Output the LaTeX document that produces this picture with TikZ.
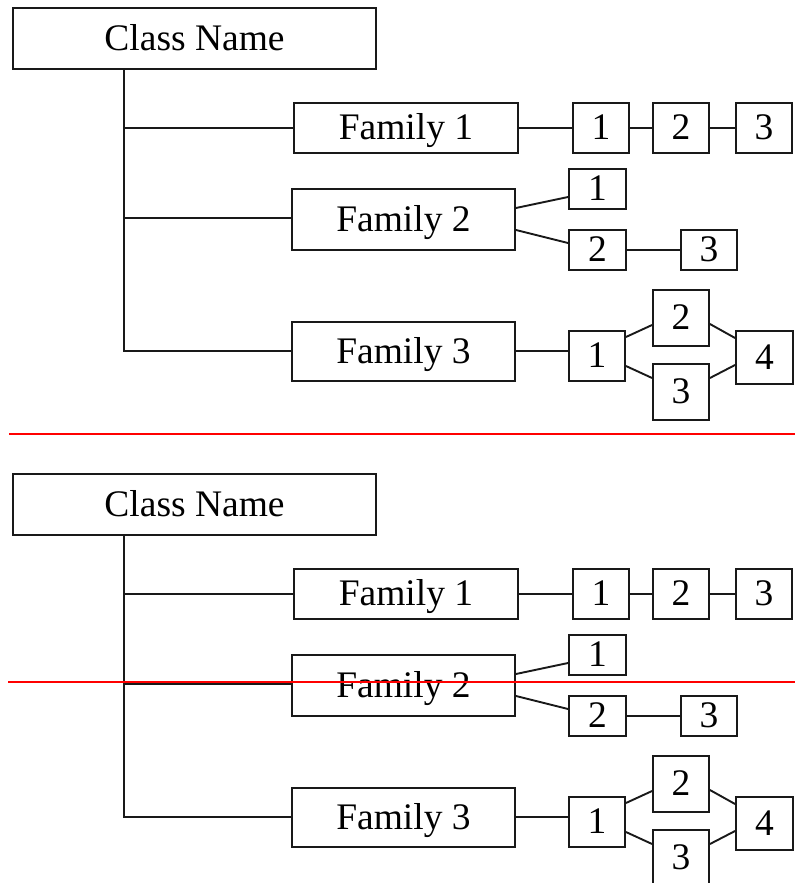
\documentclass[tikz,border=0pt]{standalone}
\usepackage{fontspec}
\setmainfont{Liberation Serif}
\usetikzlibrary{calc}
\begin{document}
\begin{tikzpicture}[x=1pt,y=-1pt,
  box/.style={draw=black!90,line width=1.9pt,inner sep=0pt,font=\fontsize{37.5}{40}\selectfont,
    text height=23.5pt,text depth=0pt,fill=white},
  conn/.style={draw=black!90,line width=1.9pt},
  sep/.style={draw=red,line width=2pt}]
\useasboundingbox (0,0) rectangle (795,883);
\foreach \o/\p in {0/a,466/b}{
\begin{scope}[yshift=-\o pt]
  \node[box,minimum width=363pt,minimum height=61pt] (\p cn) at (194.5,38.5) {Class Name};
  \node[box,minimum width=224pt,minimum height=50pt] (\p f1) at (406,128) {Family 1};
  \node[box,minimum width=56pt,minimum height=50pt] (\p f11) at (601,128) {1};
  \node[box,minimum width=56pt,minimum height=50pt] (\p f12) at (681,128) {2};
  \node[box,minimum width=56pt,minimum height=50pt] (\p f13) at (764,128) {3};
  \node[box,minimum width=223pt,minimum height=61pt] (\p f2) at (403.5,219.5) {Family 2};
  \node[box,minimum width=57pt,minimum height=40pt] (\p f21) at (597.5,189) {1};
  \node[box,minimum width=57pt,minimum height=40pt] (\p f22) at (597.5,250) {2};
  \node[box,minimum width=56pt,minimum height=40pt] (\p f23) at (709,250) {3};
  \node[box,minimum width=223pt,minimum height=59pt] (\p f3) at (403.5,351.5) {Family 3};
  \node[box,minimum width=56pt,minimum height=50pt] (\p f31) at (597,356) {1};
  \node[box,minimum width=56pt,minimum height=56pt] (\p f32) at (681,318) {2};
  \node[box,minimum width=56pt,minimum height=56pt] (\p f33) at (681,392) {3};
  \node[box,minimum width=57pt,minimum height=53pt] (\p f34) at (764.5,357.5) {4};
  \coordinate (\p top) at ([xshift=112pt]\p cn.south west);
  \coordinate (\p b2) at ([yshift=1.5pt]\p f2.west);
  \coordinate (\p b3) at ([yshift=0.5pt]\p f3.west);
  \draw[conn] (\p top) -- (\p top |- \p b3) -- (\p b3);
  \draw[conn] (\p top |- \p f1.west) -- (\p f1.west);
  \draw[conn] (\p top |- \p b2) -- (\p b2);
  \draw[conn] (\p f1.east) -- (\p f11.west);
  \draw[conn] (\p f11.east) -- (\p f12.west);
  \draw[conn] (\p f12.east) -- (\p f13.west);
  \draw[conn] ([yshift=11.5pt]\p f2.east) -- ([yshift=-8pt]\p f21.west);
  \draw[conn] ([yshift=-10.5pt]\p f2.east) -- ([yshift=7pt]\p f22.west);
  \draw[conn] (\p f22.east) -- (\p f23.west);
  \draw[conn] ([yshift=0.5pt]\p f3.east) -- ([yshift=0.5pt]\p f3.east -| \p f31.west);
  \draw[conn] ([yshift=19pt]\p f31.east) -- ([yshift=-7pt]\p f32.west);
  \draw[conn] ([yshift=-10pt]\p f31.east) -- ([yshift=14pt]\p f33.west);
  \draw[conn] ([yshift=-6pt]\p f32.east) -- ([yshift=19.5pt]\p f34.west);
  \draw[conn] ([yshift=14pt]\p f33.east) -- ([yshift=-7.5pt]\p f34.west);
\end{scope}
}
\coordinate (s1a) at (9,434);
\coordinate (s1b) at (795,434);
\coordinate (s2a) at (8,682);
\coordinate (s2b) at (795,682);
\draw[sep] (s1a) -- (s1b);
\draw[sep] (s2a) -- (s2b);
\end{tikzpicture}
\end{document}
